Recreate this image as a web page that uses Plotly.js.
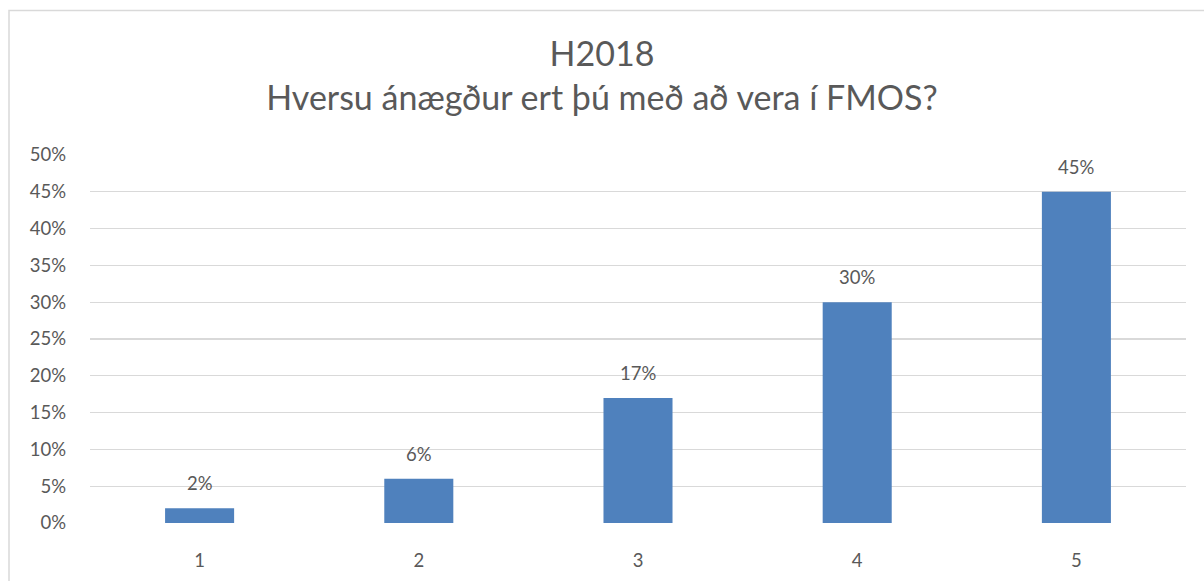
<!DOCTYPE html>
<html>
<head>
<meta charset="utf-8">
<script src="https://cdn.plot.ly/plotly-3.0.1.min.js"></script>
<style>html,body{margin:0;padding:0;background:#fff;}#chart{width:1204px;height:581px;}</style>
</head>
<body>
<div id="chart"></div>
<script>
const categories = ["1", "2", "3", "4", "5"];
const values = [0.02, 0.06, 0.17, 0.30, 0.45];
const valueLabels = ["2%", "6%", "17%", "30%", "45%"];
const titleLines = ["H2018", "Hversu ánægður ert þú með að vera í FMOS?"];

const font = "Lato, 'Open Sans', sans-serif";
const grey = "#595959";

const trace = {
  type: "bar",
  x: categories,
  y: values,
  marker: {color: "#4F81BD", line: {width: 0}},
  width: 0.315,
  hoverinfo: "none"
};

const labelAnnotations = categories.map((c, i) => ({
  x: i, y: values[i], xref: "x", yref: "y",
  text: valueLabels[i],
  showarrow: false,
  yanchor: "middle",
  yshift: 25,
  font: {family: font, size: 18.5, color: grey}
}));

const layout = {
  width: 1204,
  height: 581,
  margin: {l: 90, r: 18, t: 155, b: 58},
  paper_bgcolor: "#ffffff",
  plot_bgcolor: "#ffffff",
  showlegend: false,
  font: {family: font, color: grey},
  title: {
    text: titleLines.join("<br>"),
    font: {family: font, size: 34, color: grey},
    x: 0.5, xanchor: "center",
    y: 0.886, yanchor: "top", yref: "container"
  },
  xaxis: {
    type: "category",
    range: [-0.5, 4.5],
    autorange: false,
    showgrid: false,
    showline: false,
    zeroline: false,
    ticks: "",
    tickfont: {family: font, size: 18.5, color: grey},
    ticklabelstandoff: 24
  },
  yaxis: {
    range: [0, 0.5],
    autorange: false,
    tickvals: [0, 0.05, 0.1, 0.15, 0.2, 0.25, 0.3, 0.35, 0.4, 0.45, 0.5],
    tickformat: ".0%",
    showgrid: true,
    gridcolor: "#D9D9D9",
    gridwidth: 1.3,
    zeroline: false,
    showline: false,
    ticks: "",
    tickfont: {family: font, size: 18.5, color: grey},
    ticklabelstandoff: 23
  },
  annotations: labelAnnotations,
  shapes: [{
    type: "rect",
    xref: "paper", yref: "paper",
    x0: -0.0739, x1: 1.2,
    y0: -0.5, y1: 1.3927,
    line: {color: "#D9D9D9", width: 1.5},
    fillcolor: "rgba(0,0,0,0)",
    layer: "below"
  }]
};

Plotly.newPlot("chart", [trace], layout, {staticPlot: true, displayModeBar: false});
</script>
</body>
</html>
